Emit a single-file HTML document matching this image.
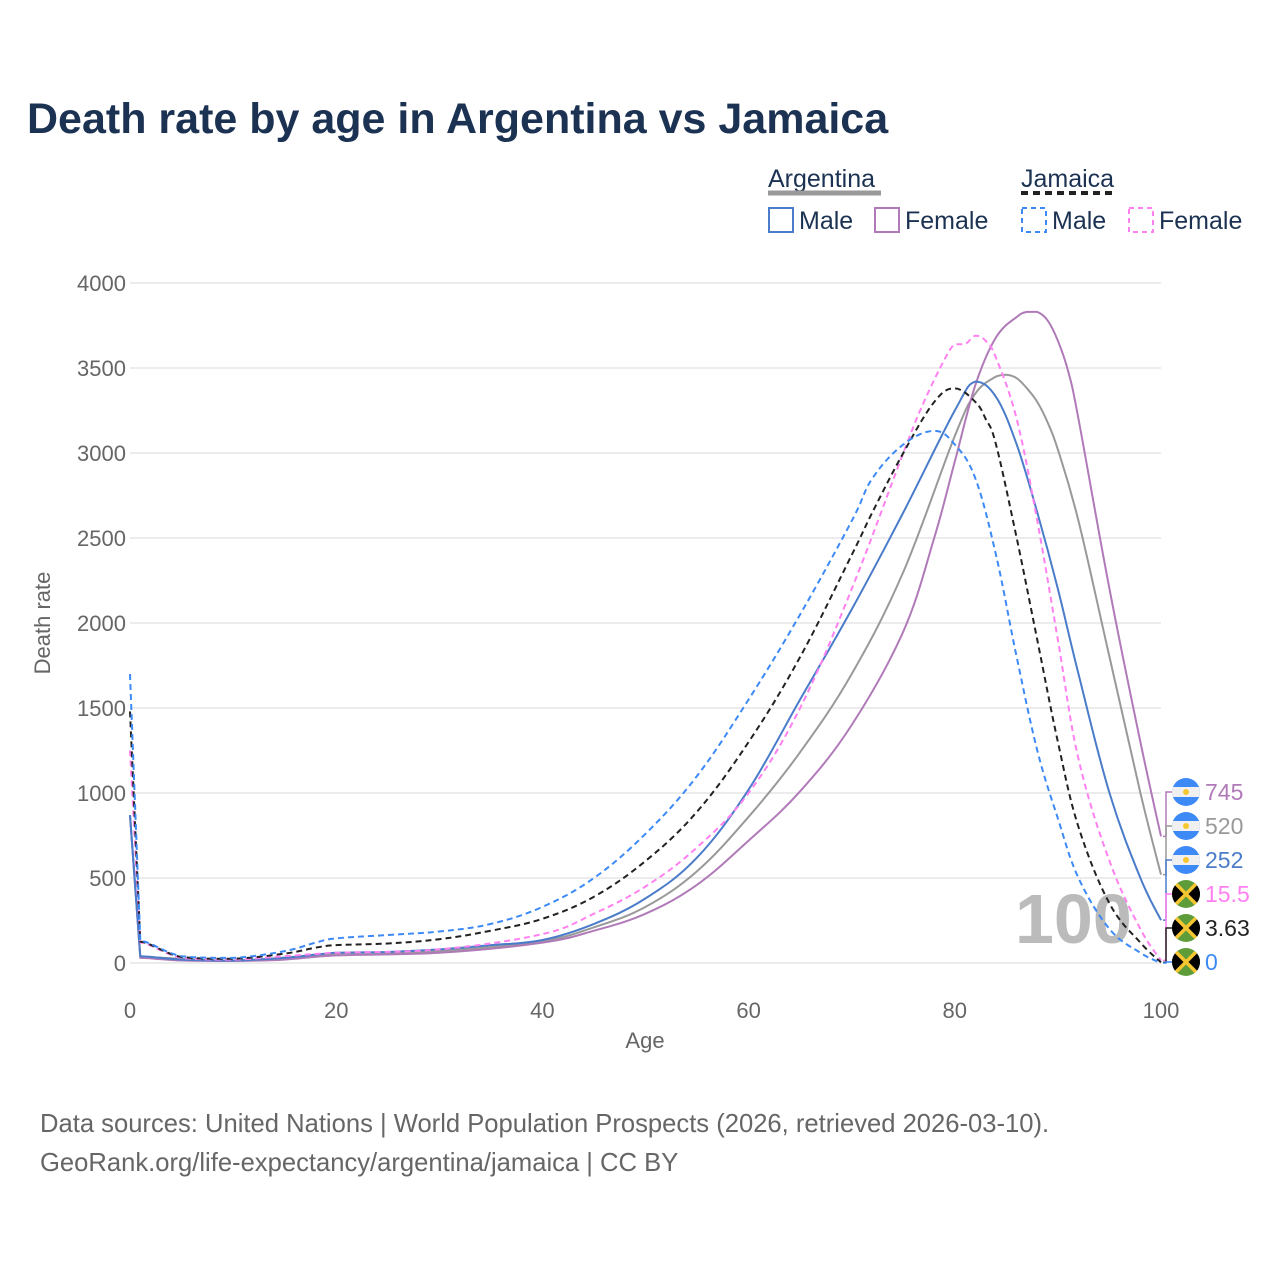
<!DOCTYPE html>
<html><head><meta charset="utf-8">
<style>
body{margin:0;background:#fff;font-family:"Liberation Sans",sans-serif;}
#wrap{position:relative;width:1280px;height:1280px;overflow:hidden}
</style></head>
<body>
<div id="wrap">
<svg id="chart" width="1280" height="1280" xmlns="http://www.w3.org/2000/svg">
<defs><clipPath id="flagclip"><circle cx="0" cy="0" r="14"/></clipPath></defs>
<text x="27" y="133" font-size="43" font-weight="bold" fill="#1b3252">Death rate by age in Argentina vs Jamaica</text>
<g font-size="25" fill="#1b3252">
<text x="768" y="187">Argentina</text>
<line x1="768" y1="193" x2="881" y2="193" stroke="#999" stroke-width="5"/>
<text x="1021" y="187">Jamaica</text>
<line x1="1021" y1="193" x2="1112" y2="193" stroke="#222" stroke-width="4" stroke-dasharray="7,5"/>
<rect x="769" y="208" width="24" height="24" fill="none" stroke="#4a7cc9" stroke-width="2"/>
<text x="799" y="229">Male</text>
<rect x="875" y="208" width="24" height="24" fill="none" stroke="#b07ab8" stroke-width="2"/>
<text x="905" y="229">Female</text>
<rect x="1022" y="208" width="24" height="24" fill="none" stroke="#3d8af7" stroke-width="2" stroke-dasharray="5,4"/>
<text x="1052" y="229">Male</text>
<rect x="1129" y="208" width="24" height="24" fill="none" stroke="#ff80f0" stroke-width="2" stroke-dasharray="5,4"/>
<text x="1159" y="229">Female</text>
</g>
<g id="grid"></g>
<text x="1015" y="943" font-size="70" font-weight="bold" fill="#bbb">100</text>
<g id="series"></g>
<g id="labels"></g>
<text x="645" y="1048" font-size="22" fill="#666" text-anchor="middle">Age</text>
<text x="50" y="623" font-size="22" fill="#666" text-anchor="middle" transform="rotate(-90 50 623)">Death rate</text>
<text x="40" y="1132" font-size="25.6" fill="#666">Data sources: United Nations | World Population Prospects (2026, retrieved 2026-03-10).</text>
<text x="40" y="1171" font-size="25.6" fill="#666">GeoRank.org/life-expectancy/argentina/jamaica | CC BY</text>
</svg>
</div>
<script>
const yTicks=[0,500,1000,1500,2000,2500,3000,3500,4000];
const xTicks=[0,20,40,60,80,100];
const argMaleAges=[0,1,5,10,15,20,25,30,35,40,45,50,55,60,65,70,75,80,82,84,86,88,90,92,95,98,100];
const argMaleVals=[870,40,20,15,30,60,65,80,105,135,230,380,620,1020,1550,2080,2650,3250,3420,3330,3050,2650,2200,1700,1000,500,252];
const argFemAges=[0,1,5,10,15,20,30,40,45,50,55,60,65,70,75,78,80,82,84,86,87,88,89,90,91,92,95,98,100];
const argFemVals=[870,30,15,12,20,45,60,120,190,290,460,720,1010,1400,1950,2500,2950,3400,3680,3800,3830,3830,3780,3660,3480,3200,2200,1300,745];
const argTotAges=[0,1,10,20,30,40,45,50,55,60,65,70,75,80,82,84,85,86,87,88,89,90,92,95,98,100];
const argTotVals=[870,35,14,55,70,130,210,330,540,860,1240,1700,2300,3100,3350,3450,3460,3440,3380,3300,3180,3020,2600,1800,1000,520];
const jamMaleAges=[0,1,5,10,15,18,20,25,30,35,40,45,50,55,60,65,70,72,75,78,80,82,84,86,88,90,92,95,98,100];
const jamMaleVals=[1700,130,40,30,70,120,145,165,185,230,330,500,760,1100,1550,2050,2600,2850,3050,3130,3050,2850,2400,1800,1250,850,500,200,60,0];
const jamTotAges=[0,1,5,10,15,18,20,25,30,35,40,45,50,55,60,65,70,72,75,78,80,82,83,84,86,88,90,92,95,98,100];
const jamTotVals=[1480,125,35,25,55,90,105,115,140,190,260,390,600,890,1300,1800,2400,2650,3000,3300,3380,3300,3200,3050,2500,1900,1300,800,350,120,3.63];
const jamFemAges=[0,1,5,10,15,20,30,40,45,50,55,60,65,70,75,77,79,80,81,82,83,84,86,88,90,92,95,98,100];
const jamFemVals=[1250,120,30,20,40,60,80,170,290,450,680,1000,1500,2200,3000,3300,3550,3640,3640,3690,3660,3560,3200,2600,1900,1200,600,200,15.5];
const endLabels=["745","520","252","15.5","3.63","0"];

const X=a=>130+a*(1161-130)/100;
const Y=v=>963-v*(963-283)/4000;
const NS="http://www.w3.org/2000/svg";
function mk(tag,attrs,parent){const e=document.createElementNS(NS,tag);for(const k in attrs)e.setAttribute(k,attrs[k]);parent.appendChild(e);return e;}
const grid=document.getElementById('grid');
yTicks.forEach(t=>{
  const l=mk('line',{x1:130,x2:1161,y1:Y(t),y2:Y(t),stroke:'#e6e6e6','stroke-width':1.5},grid);
  
  
  const tx=mk('text',{x:126,y:Y(t)+8,'font-size':22,fill:'#666','text-anchor':'end'},grid);
  tx.textContent=t;
  
  
});
xTicks.forEach(t=>{
  const tx=mk('text',{x:X(t),y:1018,'font-size':22,fill:'#666','text-anchor':'middle'},grid);
  tx.textContent=t;
  
  
});
const ser=document.getElementById('series');
const clamp=(v,a,b)=>Math.max(Math.min(a,b),Math.min(Math.max(a,b),v));
function smoothPath(pts){
  let d='M'+pts[0][0].toFixed(1)+','+pts[0][1].toFixed(1);
  for(let i=0;i<pts.length-1;i++){
    const p0=pts[i-1]||pts[i],p1=pts[i],p2=pts[i+1],p3=pts[i+2]||p2;
    if(i===0){d+=' L'+p2[0].toFixed(1)+','+p2[1].toFixed(1);continue;}
    const t=0.18;
    const c1x=p1[0]+(p2[0]-p0[0])*t,c1y=clamp(p1[1]+(p2[1]-p0[1])*t,p1[1],p2[1]);
    const c2x=p2[0]-(p3[0]-p1[0])*t,c2y=clamp(p2[1]-(p3[1]-p1[1])*t,p1[1],p2[1]);
    const a1y=i===1?p1[1]:c1y;
    d+=` C${c1x.toFixed(1)},${a1y.toFixed(1)} ${c2x.toFixed(1)},${c2y.toFixed(1)} ${p2[0].toFixed(1)},${p2[1].toFixed(1)}`;
  }
  return d;
}
function line(ages,vals,color,dash,name){
  const pts=ages.map((a,i)=>[X(a),Y(vals[i])]);
  const p=mk('path',{d:smoothPath(pts),fill:'none',stroke:color,'stroke-width':2,'stroke-dasharray':dash||'none','stroke-linejoin':'round'},ser);
  
  
}
line(argTotAges,argTotVals,'#999','', 'line-argentina-total');
line(argFemAges,argFemVals,'#b07ab8','', 'line-argentina-female');
line(argMaleAges,argMaleVals,'#4a7cc9','', 'line-argentina-male');
line(jamFemAges,jamFemVals,'#ff80f0','6,4', 'line-jamaica-female');
line(jamTotAges,jamTotVals,'#222','6,4', 'line-jamaica-total');
line(jamMaleAges,jamMaleVals,'#3d8af7','6,4', 'line-jamaica-male');

const lab=document.getElementById('labels');
const labColors=['#b07ab8','#999','#4a7cc9','#ff80f0','#222','#3d8af7'];
const endVals=[argFemVals[argFemVals.length-1],argTotVals[argTotVals.length-1],argMaleVals[argMaleVals.length-1],jamFemVals[jamFemVals.length-1],jamTotVals[jamTotVals.length-1],jamMaleVals[jamMaleVals.length-1]];
endLabels.forEach((s,i)=>{
  const ly=792+i*34;
  const g=mk('g',{},lab);
  
  
  mk('polyline',{points:`1163,${Y(endVals[i])} 1166,${Y(endVals[i])} 1166,${ly} 1172,${ly}`,fill:'none',stroke:labColors[i],'stroke-width':1.5},g);
  const f=mk('g',{transform:`translate(1186,${ly})`,'clip-path':'url(#flagclip)'},g);
  if(i<3){
    mk('rect',{x:-14,y:-14,width:28,height:28,fill:'#3d8af7'},f);
    mk('rect',{x:-14,y:-5,width:28,height:10,fill:'#f0f0f0'},f);
    mk('circle',{cx:0,cy:0,r:3,fill:'#f6c631'},f);
  }else{
    mk('rect',{x:-14,y:-14,width:28,height:28,fill:'#5e9c3a'},f);
    mk('path',{d:'M-14,-12 L0,0 L-14,12 Z M14,-12 L0,0 L14,12 Z',fill:'#000'},f);
    mk('path',{d:'M-12,-12 L12,12 M12,-12 L-12,12',stroke:'#f6c631','stroke-width':3.5},f);
  }
  const t=mk('text',{x:1205,y:ly+8,'font-size':23,fill:labColors[i]},g);
  t.textContent=s;
});
</script>
</body></html>
